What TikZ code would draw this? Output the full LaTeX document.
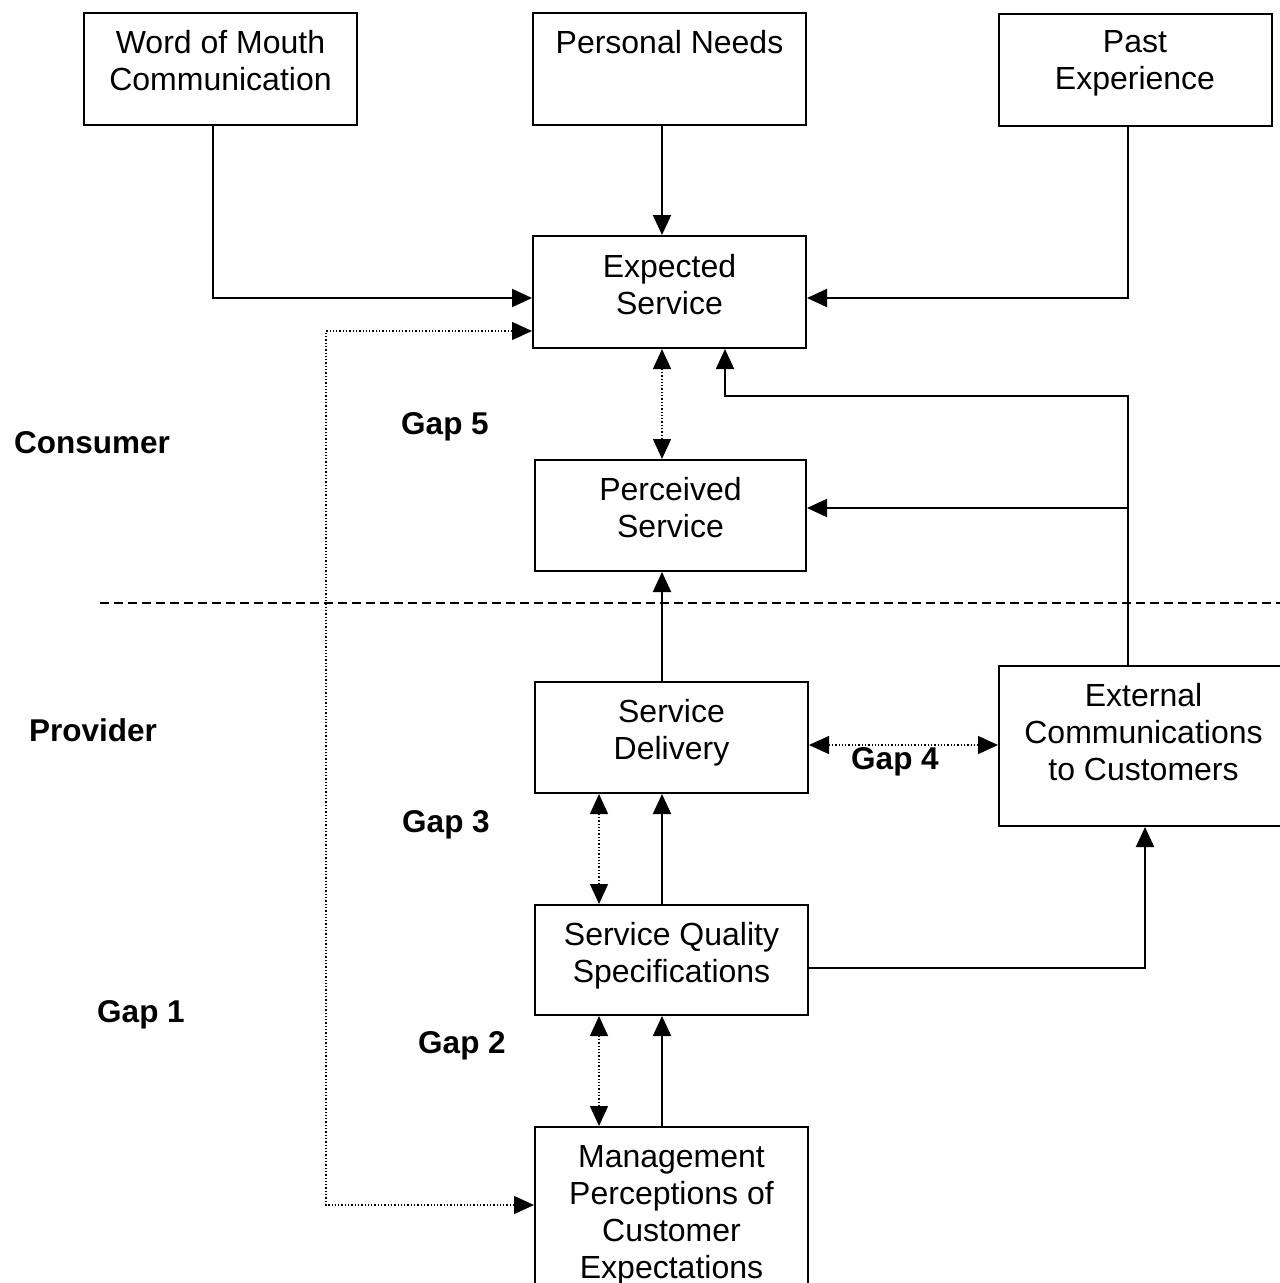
\documentclass[tikz,border=0pt]{standalone}
\usepackage{fontspec}
\setmainfont{Liberation Sans}
\usetikzlibrary{arrows.meta}
\tikzset{
  box/.style={draw, line width=2pt, minimum width=273pt, minimum height=112pt, inner sep=0pt},
  txt/.style={anchor=north, inner sep=0pt, align=center, font=\fontsize{32}{37}\selectfont},
  lab/.style={inner sep=0pt, font=\fontsize{31.5}{36}\selectfont\bfseries},
  arr/.style={line width=2pt, -{Triangle[length=20pt,width=18pt]}},
  dotarr/.style={line width=1.3pt, dotted, {Triangle[length=20pt,width=18pt]}-{Triangle[length=20pt,width=18pt]}},
}
\begin{document}
\begin{tikzpicture}[x=1pt,y=-1pt]
\useasboundingbox (0,0) rectangle (1280,1283);
\clip (0,0) rectangle (1280,1283);
% boxes
\node[box] (wom) at (220.5,69) {};
\node[box] (pn) at (669.5,69) {};
\node[box] (past) at (1135,69.5) {};
\node[box] (exp) at (669.5,292) {};
\node[box, minimum width=271pt, minimum height=111pt] (per) at (670.5,515.5) {};
\node[box, minimum height=111pt] (del) at (671.5,737.5) {};
\node[box, minimum width=289pt, minimum height=160pt] (ext) at (1143.5,746) {};
\node[box, minimum height=110pt] (sqs) at (671.5,960) {};
\node[box, minimum height=180pt] (mgmt) at (671.5,1217) {};
% texts
\node[txt] (twom) at ([yshift=-18pt]wom.north) {Word of Mouth\\Communication};
\node[txt] (tpn) at ([yshift=-18pt]pn.north) {Personal Needs};
\node[txt] (tpast) at ([yshift=-18pt]past.north) {Past\\Experience};
\node[txt] (texp) at ([yshift=-19pt]exp.north) {Expected\\Service};
\node[txt] (tper) at ([yshift=-18pt]per.north) {Perceived\\Service};
\node[txt] (tdel) at ([yshift=-18pt]del.north) {Service\\Delivery};
\node[txt] (text) at ([yshift=-18pt]ext.north) {External\\Communications\\to Customers};
\node[txt] (tsqs) at ([yshift=-18pt]sqs.north) {Service Quality\\Specifications};
\node[txt] (tmg) at ([yshift=-19pt]mgmt.north) {Management\\Perceptions of\\Customer\\Expectations};
% labels
\node[lab] (consumer) at (92,443) {Consumer};
\node[lab] (provider) at (93,730) {Provider};
\node[lab] (gap1) at (141,1015) {Gap 1};
\node[lab] (gap5) at (445,427) {Gap 5};
\node[lab] (gap3) at (446,825) {Gap 3};
\node[lab] (gap2) at (462,1046) {Gap 2};
\node[lab] (gap4) at (895,762) {Gap 4};
% helper coordinates
\coordinate (cx) at (662,0);
\coordinate (cl) at (599,0);
\coordinate (cr) at (725,0);
\coordinate (cpe) at (1128,0);
\coordinate (cext) at (1145,0);
\coordinate (cwom) at (213,0);
\coordinate (y1) at (0,298);
\coordinate (y2) at (0,331);
\coordinate (g1) at (326,800);
\coordinate (y3) at (0,1205);
\coordinate (k1) at (1128,396);
\coordinate (k2) at (1128,508);
\coordinate (y4) at (0,745);
\coordinate (k3) at (0,968);
\coordinate (d1) at (100,603);
\coordinate (d2) at (1285,603);
% dashed divider
\draw[line width=2pt, dash pattern=on 9pt off 5pt] (d1) -- (d2);
% connectors
\draw[arr] (wom.south -| cwom) |- (exp.west |- y1);
\draw[arr] (pn.south -| cx) -- (exp.north -| cx);
\draw[arr] (past.south -| cpe) |- (exp.east |- y1);
\draw[dotarr] (mgmt.west |- y3) -| (g1) |- (exp.west |- y2);
\draw[dotarr] (exp.south -| cx) -- (per.north -| cx);
\draw[arr] (ext.north -| cpe) -- (k1) -| (exp.south -| cr);
\draw[arr] (k2) -- (per.east |- k2);
\draw[arr] (del.north -| cx) -- (per.south -| cx);
\draw[dotarr] (del.east |- y4) -- (ext.west |- y4);
\draw[dotarr] (del.south -| cl) -- (sqs.north -| cl);
\draw[arr] (sqs.north -| cx) -- (del.south -| cx);
\draw[arr] (sqs.east |- k3) -| (ext.south -| cext);
\draw[dotarr] (sqs.south -| cl) -- (mgmt.north -| cl);
\draw[arr] (mgmt.north -| cx) -- (sqs.south -| cx);
\end{tikzpicture}
\end{document}
